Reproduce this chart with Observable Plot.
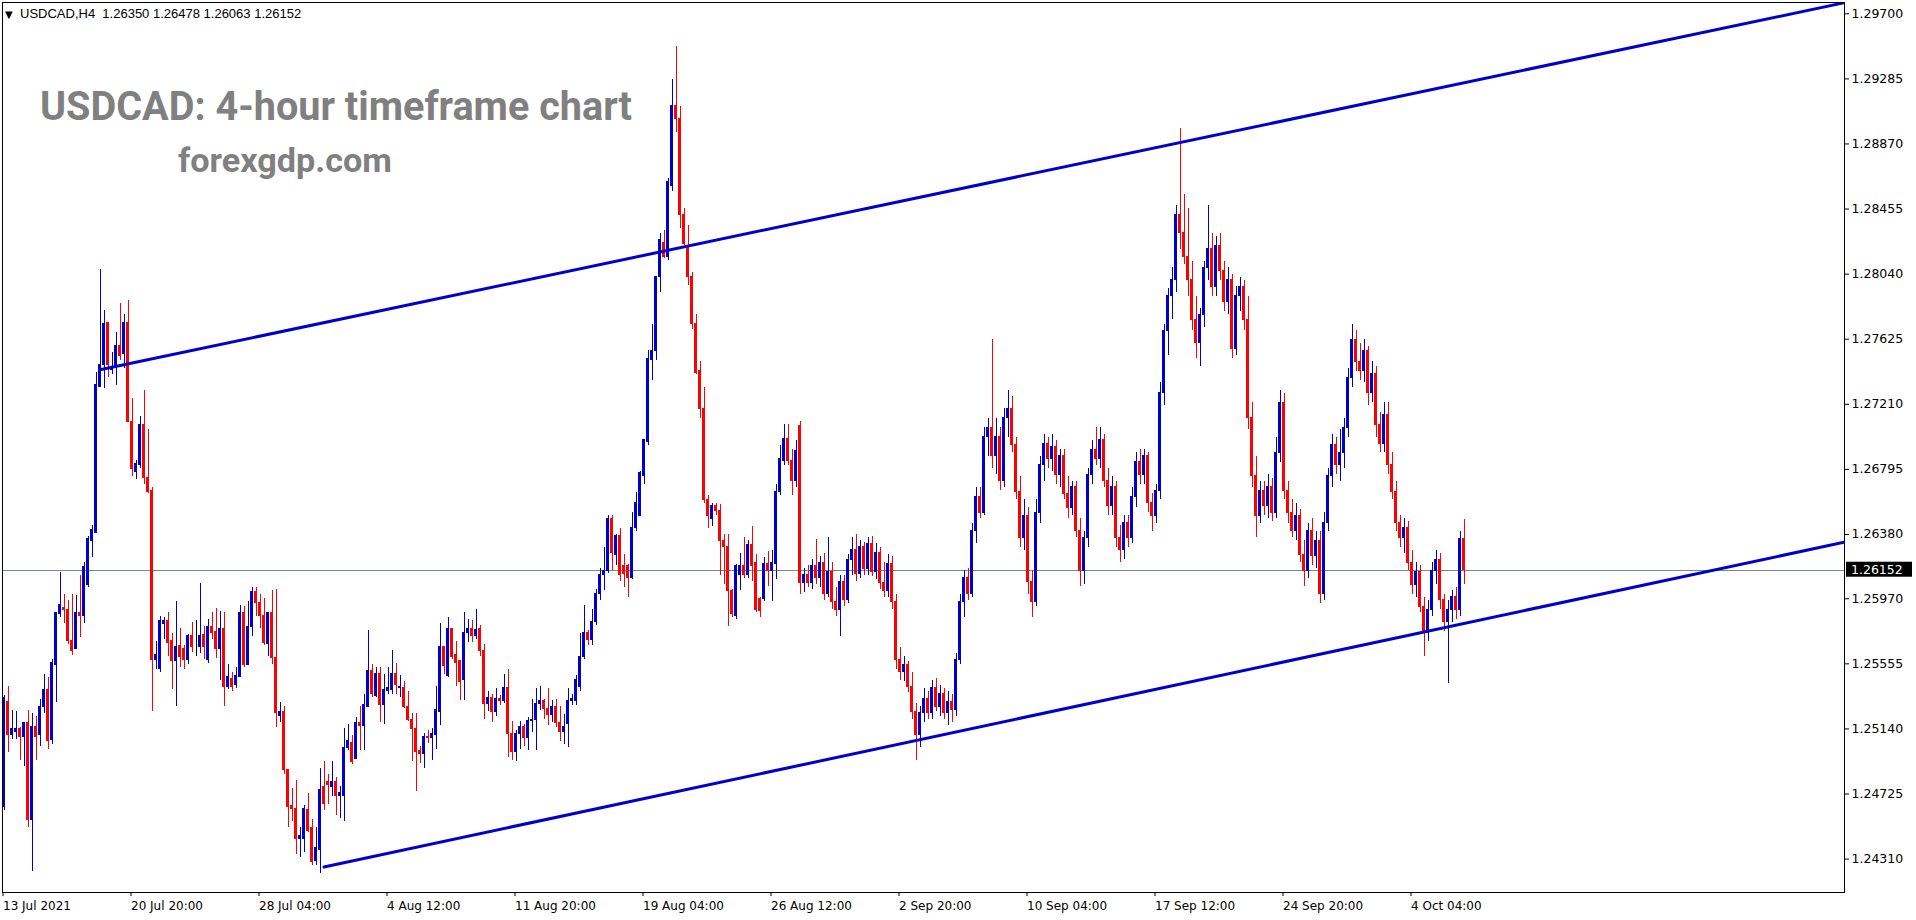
<!DOCTYPE html>
<html><head><meta charset="utf-8">
<script src="https://cdn.jsdelivr.net/npm/d3@7"></script>
<script src="https://cdn.jsdelivr.net/npm/@observablehq/plot@0.6"></script>
<style>body{margin:0;background:#fff;overflow:hidden}</style>
</head><body><div id="chart"></div>
<script>
const open=[1.2464,1.2531,1.2510,1.2512,1.2514,1.2509,1.2518,1.2456,1.2515,1.2510,
1.2528,1.2539,1.2507,1.2555,1.2587,1.2591,1.2590,1.2570,1.2565,1.2588,
1.2586,1.2606,1.2634,1.2639,1.2732,1.2746,1.2773,1.2743,1.2745,1.2758,
1.2753,1.2773,1.2710,1.2678,1.2682,1.2708,1.2674,1.2666,1.2558,1.2552,
1.2581,1.2583,1.2570,1.2557,1.2567,1.2565,1.2558,1.2573,1.2567,1.2566,
1.2574,1.2558,1.2579,1.2576,1.2565,1.2578,1.2541,1.2546,1.2542,1.2547,
1.2588,1.2555,1.2579,1.2601,1.2594,1.2586,1.2568,1.2588,1.2559,1.2522,
1.2525,1.2488,1.2465,1.2463,1.2444,1.2444,1.2462,1.2451,1.2430,1.2437,
1.2477,1.2480,1.2477,1.2480,1.2471,1.2471,1.2502,1.2505,1.2495,1.2518,
1.2516,1.2528,1.2551,1.2535,1.2549,1.2529,1.2538,1.2539,1.2549,1.2540,
1.2540,1.2528,1.2520,1.2514,1.2500,1.2498,1.2509,1.2508,1.2510,1.2525,
1.2566,1.2548,1.2578,1.2561,1.2557,1.2545,1.2575,1.2578,1.2573,1.2578,
1.2564,1.2530,1.2534,1.2525,1.2533,1.2532,1.2540,1.2511,1.2499,1.2511,
1.2515,1.2508,1.2519,1.2520,1.2530,1.2532,1.2527,1.2523,1.2528,1.2518,
1.2512,1.2517,1.2532,1.2532,1.2541,1.2560,1.2575,1.2571,1.2582,1.2600,
1.2612,1.2615,1.2648,1.2625,1.2637,1.2618,1.2618,1.2610,1.2642,1.2650,
1.2675,1.2697,1.2749,1.2755,1.2802,1.2824,1.2815,1.2860,1.2911,1.2903,
1.2842,1.2822,1.2802,1.2772,1.2742,1.2718,1.2660,1.2648,1.2656,1.2653,
1.2634,1.2630,1.2602,1.2586,1.2612,1.2618,1.2612,1.2631,1.2620,1.2597,
1.2597,1.2619,1.2615,1.2619,1.2665,1.2685,1.2699,1.2685,1.2672,1.2707,
1.2607,1.2612,1.2607,1.2618,1.2610,1.2620,1.2600,1.2614,1.2595,1.2590,
1.2608,1.2596,1.2622,1.2628,1.2613,1.2630,1.2616,1.2632,1.2614,1.2626,
1.2607,1.2602,1.2619,1.2595,1.2558,1.2550,1.2555,1.2541,1.2525,1.2510,
1.2524,1.2533,1.2524,1.2540,1.2528,1.2536,1.2524,1.2531,1.2526,1.2558,
1.2595,1.2610,1.2600,1.2640,1.2662,1.2652,1.2700,1.2706,1.2688,1.2700,
1.2672,1.2712,1.2718,1.2695,1.2665,1.2636,1.2650,1.2608,1.2595,1.2652,
1.2682,1.2696,1.2686,1.2694,1.2676,1.2688,1.2664,1.2655,1.2668,1.2640,
1.2615,1.2636,1.2676,1.2692,1.2686,1.2698,1.2672,1.2656,1.2668,1.2636,
1.2628,1.2645,1.2636,1.2662,1.2684,1.2676,1.2688,1.2658,1.2650,1.2666,
1.2728,1.2768,1.2790,1.2800,1.2842,1.2830,1.2815,1.2800,1.2775,1.2760,
1.2778,1.2808,1.2820,1.2796,1.2822,1.2806,1.2786,1.2800,1.2756,1.2790,
1.2796,1.2775,1.2712,1.2675,1.2650,1.2666,1.2656,1.2668,1.2652,1.2690,
1.2722,1.2666,1.2652,1.2640,1.2650,1.2625,1.2615,1.2640,1.2624,1.2634,
1.2600,1.2645,1.2675,1.2695,1.2682,1.2690,1.2706,1.2738,1.2762,1.2748,
1.2742,1.2755,1.2728,1.2740,1.2708,1.2696,1.2714,1.2682,1.2665,1.2645,
1.2636,1.2642,1.2620,1.2606,1.2614,1.2592,1.2575,1.2590,1.2615,1.2622,
1.2596,1.2582,1.2590,1.2598,1.2590,1.26350];
const high=[1.2535,1.2541,1.2526,1.2525,1.2515,1.2518,1.2526,1.2524,1.2522,1.2533,
1.2549,1.2547,1.2558,1.2588,1.2614,1.2600,1.2596,1.2600,1.2599,1.2612,
1.2620,1.2637,1.2644,1.2741,1.2807,1.2781,1.2773,1.2754,1.2767,1.2785,
1.2778,1.2787,1.2725,1.2685,1.2713,1.2730,1.2705,1.2668,1.2570,1.2586,
1.2585,1.2588,1.2575,1.2595,1.2578,1.2567,1.2574,1.2582,1.2583,1.2607,
1.2579,1.2584,1.2588,1.2591,1.2589,1.2588,1.2555,1.2550,1.2553,1.2593,
1.2592,1.2595,1.2604,1.2604,1.2600,1.2597,1.2588,1.2602,1.2603,1.2531,
1.2528,1.2488,1.2476,1.2481,1.2451,1.2465,1.2473,1.2456,1.2451,1.2489,
1.2493,1.2485,1.2493,1.2483,1.2477,1.2514,1.2517,1.2510,1.2521,1.2528,
1.2536,1.2577,1.2555,1.2553,1.2553,1.2549,1.2553,1.2564,1.2556,1.2548,
1.2544,1.2538,1.2524,1.2524,1.2503,1.2511,1.2513,1.2514,1.2541,1.2581,
1.2566,1.2585,1.2578,1.2570,1.2557,1.2588,1.2584,1.2583,1.2590,1.2580,
1.2568,1.2538,1.2536,1.2540,1.2535,1.2549,1.2552,1.2519,1.2513,1.2519,
1.2517,1.2521,1.2533,1.2540,1.2541,1.2533,1.2540,1.2532,1.2533,1.2528,
1.2523,1.2540,1.2536,1.2548,1.2575,1.2593,1.2577,1.2590,1.2603,1.2616,
1.2630,1.2650,1.2650,1.2638,1.2642,1.2625,1.2619,1.2652,1.2665,1.2678,
1.2698,1.2755,1.2772,1.2802,1.2830,1.2832,1.2865,1.2928,1.2949,1.2911,
1.2846,1.2835,1.2805,1.2778,1.2748,1.2732,1.2663,1.2658,1.2658,1.2657,
1.2638,1.2638,1.2603,1.2619,1.2626,1.2636,1.2634,1.2643,1.2625,1.2598,
1.2623,1.2627,1.2628,1.2670,1.2695,1.2708,1.2708,1.2692,1.2698,1.2710,
1.2616,1.2618,1.2622,1.2635,1.2624,1.2626,1.2636,1.2620,1.2604,1.2612,
1.2612,1.2625,1.2636,1.2638,1.2634,1.2633,1.2636,1.2637,1.2632,1.2630,
1.2620,1.2625,1.2624,1.2600,1.2566,1.2560,1.2557,1.2550,1.2530,1.2528,
1.2540,1.2538,1.2545,1.2546,1.2542,1.2540,1.2538,1.2536,1.2562,1.2600,
1.2615,1.2616,1.2645,1.2668,1.2668,1.2706,1.2712,1.2762,1.2712,1.2706,
1.2718,1.2730,1.2726,1.2700,1.2675,1.2660,1.2655,1.2615,1.2660,1.2688,
1.2702,1.2700,1.2702,1.2698,1.2692,1.2692,1.2675,1.2672,1.2672,1.2648,
1.2640,1.2680,1.2698,1.2706,1.2706,1.2702,1.2680,1.2675,1.2672,1.2644,
1.2650,1.2650,1.2668,1.2690,1.2692,1.2692,1.2690,1.2664,1.2670,1.2735,
1.2772,1.2795,1.2808,1.2848,1.2897,1.2855,1.2846,1.2812,1.2790,1.2782,
1.2812,1.2848,1.2830,1.2828,1.2830,1.2812,1.2808,1.2804,1.2796,1.2802,
1.2800,1.2790,1.2722,1.2688,1.2672,1.2672,1.2676,1.2674,1.2700,1.2730,
1.2728,1.2672,1.2660,1.2658,1.2654,1.2634,1.2645,1.2648,1.2640,1.2640,
1.2652,1.2680,1.2702,1.2700,1.2705,1.2712,1.2744,1.2772,1.2768,1.2760,
1.2762,1.2758,1.2748,1.2745,1.2716,1.2722,1.2722,1.2690,1.2672,1.2650,
1.2648,1.2646,1.2628,1.2620,1.2618,1.2598,1.2596,1.2620,1.2628,1.2626,
1.2600,1.2596,1.2602,1.2604,1.2640,1.26478];
const low=[1.2462,1.2499,1.2507,1.2507,1.2494,1.2490,1.2451,1.2423,1.2494,1.2503,
1.2524,1.2501,1.2504,1.2531,1.2585,1.2581,1.2568,1.2561,1.2565,1.2572,
1.2581,1.2604,1.2623,1.2639,1.2732,1.2731,1.2738,1.2740,1.2733,1.2749,
1.2744,1.2710,1.2675,1.2673,1.2680,1.2670,1.2664,1.2525,1.2552,1.2550,
1.2571,1.2560,1.2539,1.2528,1.2553,1.2552,1.2555,1.2563,1.2560,1.2562,
1.2558,1.2556,1.2571,1.2559,1.2545,1.2528,1.2539,1.2538,1.2540,1.2547,
1.2553,1.2555,1.2573,1.2586,1.2578,1.2567,1.2560,1.2555,1.2515,1.2518,
1.2485,1.2451,1.2455,1.2434,1.2432,1.2435,1.2448,1.2427,1.2427,1.2422,
1.2462,1.2466,1.2471,1.2459,1.2457,1.2455,1.2500,1.2491,1.2495,1.2500,
1.2500,1.2528,1.2534,1.2534,1.2518,1.2517,1.2536,1.2536,1.2536,1.2534,
1.2527,1.2519,1.2493,1.2474,1.2492,1.2489,1.2505,1.2494,1.2501,1.2516,
1.2549,1.2547,1.2558,1.2541,1.2532,1.2532,1.2569,1.2569,1.2571,1.2560,
1.2520,1.2525,1.2518,1.2522,1.2529,1.2530,1.2496,1.2494,1.2493,1.2501,
1.2503,1.2500,1.2512,1.2500,1.2526,1.2520,1.2516,1.2518,1.2515,1.2506,
1.2504,1.2502,1.2529,1.2529,1.2538,1.2558,1.2567,1.2567,1.2580,1.2596,
1.2602,1.2613,1.2615,1.2618,1.2608,1.2604,1.2598,1.2609,1.2640,1.2650,
1.2670,1.2695,1.2736,1.2749,1.2792,1.2814,1.2813,1.2857,1.2894,1.2833,
1.2822,1.2797,1.2769,1.2740,1.2712,1.2658,1.2642,1.2643,1.2650,1.2612,
1.2606,1.2579,1.2585,1.2584,1.2602,1.2610,1.2610,1.2608,1.2588,1.2585,
1.2595,1.2605,1.2595,1.2609,1.2663,1.2682,1.2682,1.2663,1.2668,1.2600,
1.2601,1.2604,1.2603,1.2606,1.2604,1.2596,1.2598,1.2590,1.2586,1.2573,
1.2592,1.2594,1.2612,1.2608,1.2610,1.2612,1.2612,1.2611,1.2609,1.2603,
1.2598,1.2598,1.2590,1.2552,1.2545,1.2544,1.2537,1.2520,1.2494,1.2502,
1.2518,1.2520,1.2520,1.2525,1.2522,1.2520,1.2516,1.2518,1.2522,1.2555,
1.2585,1.2596,1.2598,1.2632,1.2648,1.2650,1.2688,1.2680,1.2676,1.2666,
1.2668,1.2700,1.2690,1.2660,1.2630,1.2628,1.2600,1.2585,1.2592,1.2645,
1.2672,1.2680,1.2678,1.2670,1.2668,1.2660,1.2648,1.2650,1.2636,1.2605,
1.2606,1.2630,1.2670,1.2682,1.2680,1.2668,1.2650,1.2650,1.2630,1.2620,
1.2622,1.2630,1.2632,1.2655,1.2670,1.2670,1.2652,1.2640,1.2645,1.2660,
1.2720,1.2752,1.2775,1.2792,1.2820,1.2810,1.2790,1.2768,1.2750,1.2745,
1.2770,1.2800,1.2790,1.2790,1.2800,1.2780,1.2778,1.2750,1.2752,1.2780,
1.2768,1.2705,1.2668,1.2636,1.2645,1.2650,1.2648,1.2646,1.2648,1.2684,
1.2660,1.2645,1.2636,1.2634,1.2620,1.2605,1.2610,1.2618,1.2616,1.2594,
1.2596,1.2640,1.2668,1.2676,1.2672,1.2680,1.2700,1.2732,1.2742,1.2736,
1.2735,1.2720,1.2722,1.2700,1.2690,1.2690,1.2676,1.2660,1.2640,1.2630,
1.2626,1.2615,1.2600,1.2598,1.2588,1.2560,1.2570,1.2586,1.2606,1.2590,
1.2576,1.2543,1.2582,1.2584,1.2586,1.26063];
const close=[1.2534,1.2510,1.2514,1.2514,1.2509,1.2518,1.2456,1.2515,1.2509,1.2528,
1.2539,1.2506,1.2556,1.2588,1.2593,1.2590,1.2570,1.2564,1.2588,1.2586,
1.2617,1.2635,1.2641,1.2733,1.2746,1.2772,1.2746,1.2744,1.2758,1.2752,
1.2773,1.2710,1.2680,1.2683,1.2708,1.2674,1.2665,1.2558,1.2561,1.2583,
1.2583,1.2569,1.2557,1.2566,1.2560,1.2558,1.2573,1.2566,1.2567,1.2573,
1.2566,1.2579,1.2575,1.2565,1.2578,1.2541,1.2547,1.2541,1.2548,1.2588,
1.2555,1.2579,1.2601,1.2594,1.2586,1.2569,1.2588,1.2559,1.2524,1.2525,
1.2488,1.2464,1.2463,1.2444,1.2446,1.2463,1.2449,1.2429,1.2438,1.2475,
1.2466,1.2478,1.2480,1.2471,1.2473,1.2502,1.2506,1.2493,1.2518,1.2516,
1.2529,1.2551,1.2536,1.2549,1.2529,1.2539,1.2540,1.2549,1.2542,1.2541,
1.2528,1.2520,1.2514,1.2499,1.2498,1.2509,1.2508,1.2511,1.2526,1.2566,
1.2554,1.2578,1.2560,1.2556,1.2544,1.2575,1.2578,1.2573,1.2577,1.2564,
1.2530,1.2534,1.2525,1.2533,1.2532,1.2540,1.2511,1.2499,1.2511,1.2515,
1.2508,1.2519,1.2520,1.2530,1.2532,1.2527,1.2523,1.2528,1.2518,1.2512,
1.2515,1.2532,1.2533,1.2545,1.2560,1.2575,1.2571,1.2582,1.2600,1.2612,
1.2615,1.2648,1.2626,1.2637,1.2612,1.2613,1.2610,1.2642,1.2658,1.2677,
1.2698,1.2750,1.2755,1.2802,1.2826,1.2815,1.2863,1.2911,1.2903,1.2842,
1.2823,1.2802,1.2772,1.2741,1.2718,1.2660,1.2650,1.2656,1.2653,1.2634,
1.2630,1.2602,1.2587,1.2618,1.2618,1.2612,1.2631,1.2618,1.2590,1.2589,
1.2619,1.2615,1.2620,1.2665,1.2686,1.2699,1.2685,1.2672,1.2691,1.2607,
1.2612,1.2607,1.2618,1.2610,1.2620,1.2600,1.2614,1.2595,1.2590,1.2608,
1.2596,1.2622,1.2628,1.2613,1.2630,1.2616,1.2632,1.2614,1.2626,1.2607,
1.2602,1.2619,1.2595,1.2558,1.2550,1.2555,1.2541,1.2525,1.2510,1.2524,
1.2533,1.2524,1.2540,1.2528,1.2536,1.2524,1.2531,1.2526,1.2558,1.2595,
1.2610,1.2600,1.2640,1.2662,1.2652,1.2700,1.2706,1.2688,1.2700,1.2672,
1.2712,1.2718,1.2695,1.2665,1.2636,1.2650,1.2608,1.2595,1.2652,1.2682,
1.2696,1.2686,1.2694,1.2676,1.2688,1.2664,1.2655,1.2668,1.2640,1.2615,
1.2636,1.2676,1.2692,1.2686,1.2698,1.2672,1.2656,1.2668,1.2636,1.2628,
1.2645,1.2636,1.2662,1.2684,1.2676,1.2688,1.2658,1.2650,1.2666,1.2728,
1.2768,1.2790,1.2800,1.2842,1.2830,1.2815,1.2800,1.2775,1.2760,1.2778,
1.2808,1.2820,1.2796,1.2822,1.2806,1.2786,1.2800,1.2756,1.2790,1.2796,
1.2775,1.2712,1.2675,1.2650,1.2666,1.2656,1.2668,1.2652,1.2690,1.2722,
1.2666,1.2652,1.2640,1.2650,1.2625,1.2615,1.2640,1.2624,1.2634,1.2600,
1.2645,1.2675,1.2695,1.2682,1.2690,1.2706,1.2738,1.2762,1.2748,1.2742,
1.2755,1.2728,1.2740,1.2708,1.2696,1.2714,1.2682,1.2665,1.2645,1.2636,
1.2642,1.2620,1.2606,1.2614,1.2592,1.2575,1.2590,1.2615,1.2622,1.2596,
1.2582,1.2590,1.2598,1.2590,1.2635,1.26152];

const xTickIndex=[0,32,64,96,128,160,192,224,256,288,320,352];
const xTickLabels=["13 Jul 2021","20 Jul 20:00","28 Jul 04:00","4 Aug 12:00","11 Aug 20:00","19 Aug 04:00","26 Aug 12:00","2 Sep 20:00","10 Sep 04:00","17 Sep 12:00","24 Sep 20:00","4 Oct 04:00"];
const yTicks=[1.29700,1.29285,1.28870,1.28455,1.28040,1.27625,1.27210,1.26795,1.26380,1.25970,1.25555,1.25140,1.24725,1.24310];
const currentPrice=1.26152;
const headerText="USDCAD,H4  1.26350 1.26478 1.26063 1.26152";
const titleText="USDCAD: 4-hour timeframe chart";
const siteText="forexgdp.com";
const upperLine=[{i:24,p:1.2743},{i:460,p:1.2977}];
const lowerLine=[{i:80,p:1.2426},{i:460,p:1.2633}];

const BULL="#0000cd", BEAR="#ff0000", LINE="#0000cd";
const candles=open.map((o,k)=>({i:k,o,h:high[k],l:low[k],c:close[k]}));
const col=d=>d.c>d.o?BULL:d.c<d.o?BEAR:"#000";
const labelMap=new Map(xTickIndex.map((d,k)=>[d,xTickLabels[k]]));

const chart=Plot.plot({
  width:1916,height:920,
  marginLeft:2,marginTop:2,marginRight:72,marginBottom:28,
  style:{fontFamily:"DejaVu Sans",fontSize:"12px",background:"#fff",color:"#000"},
  x:{type:"linear",domain:[-0.375,460.125],axis:null,label:null},
  y:{type:"linear",domain:[1.24097,1.29772],axis:null,label:null},
  marks:[
    Plot.ruleY([currentPrice],{stroke:"#778899",strokeWidth:1,shapeRendering:"crispEdges"}),
    Plot.ruleX(candles,{x:"i",y1:"l",y2:"h",stroke:col,strokeWidth:1,shapeRendering:"crispEdges"}),
    Plot.rect(candles,{x1:d=>d.i-0.25,x2:d=>d.i+0.25,y1:"o",y2:"c",fill:col,stroke:col,strokeWidth:1,shapeRendering:"crispEdges"}),
    Plot.line(upperLine,{x:"i",y:"p",stroke:LINE,strokeWidth:3,clip:true}),
    Plot.line(lowerLine,{x:"i",y:"p",stroke:LINE,strokeWidth:3,clip:true}),
    Plot.frame({stroke:"#000",strokeWidth:1}),
    Plot.axisY(yTicks,{anchor:"right",label:null,tickSize:4,tickPadding:3,tickFormat:d=>d.toFixed(5),fontSize:12.5,stroke:"#000"}),
    Plot.axisX(xTickIndex,{anchor:"bottom",label:null,tickSize:4,tickPadding:5,tickFormat:d=>labelMap.get(d),textAnchor:"start",dx:-1,fontSize:12,stroke:"#000"})
  ]
});
document.getElementById("chart").appendChild(chart);
const svg=d3.select(chart);
const yS=chart.scale("y");
const g=svg.append("g").attr("text-anchor","start");
// header
g.append("text").attr("x",5).attr("y",18).attr("font-family","DejaVu Sans").attr("font-size",10).attr("fill","#000").text("▼");
g.append("text").attr("x",20).attr("y",18).attr("font-family","Liberation Sans").attr("font-size",13).attr("fill","#000").style("white-space","pre").text(headerText);
// title & site
g.append("text").attr("x",40).attr("y",120).attr("font-family","Roboto").attr("font-weight","bold").attr("font-size",40).attr("fill","#808080").attr("textLength",592).attr("lengthAdjust","spacingAndGlyphs").text(titleText);
g.append("text").attr("x",178).attr("y",172).attr("font-family","Roboto").attr("font-weight","bold").attr("font-size",34).attr("fill","#808080").attr("textLength",214).attr("lengthAdjust","spacingAndGlyphs").text(siteText);
// current price label
const py=yS.apply(currentPrice);
g.append("rect").attr("x",1846).attr("y",py-8).attr("width",66).attr("height",15).attr("fill","#000");
g.append("text").attr("x",1851).attr("y",py+4.5).attr("font-family","DejaVu Sans").attr("font-size",12.5).attr("fill","#fff").text(currentPrice.toFixed(5));
</script></body></html>
